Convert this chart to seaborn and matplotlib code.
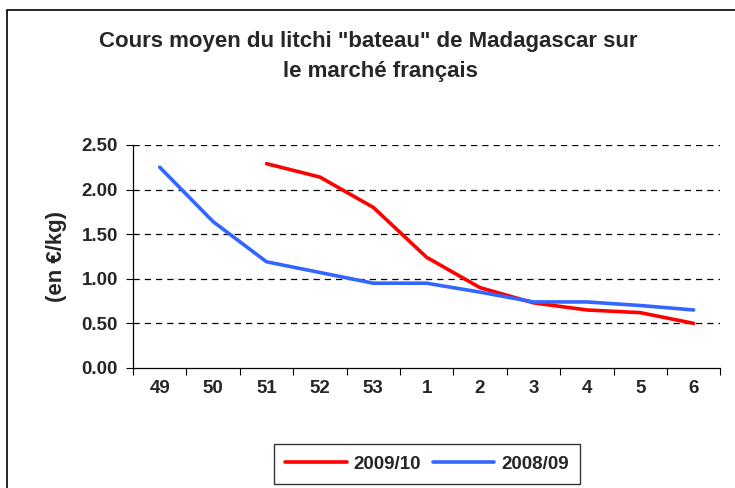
import pandas as pd
import numpy as np
import seaborn as sns
import matplotlib.pyplot as plt
from matplotlib.patches import Rectangle

semaines = ['49', '50', '51', '52', '53', '1', '2', '3', '4', '5', '6']
prix_0910 = [np.nan, np.nan, 2.29, 2.14, 1.80, 1.24, 0.90, 0.73, 0.65, 0.62, 0.50]
prix_0809 = [2.25, 1.64, 1.19, 1.07, 0.95, 0.95, 0.85, 0.74, 0.74, 0.70, 0.65]

pos = list(range(len(semaines)))
df = pd.DataFrame({
    'pos': pos + pos,
    'prix': prix_0910 + prix_0809,
    'saison': ['2009/10'] * len(pos) + ['2008/09'] * len(pos),
})

sns.set_style('white')
plt.rcParams['font.family'] = ['Liberation Sans', 'DejaVu Sans']
plt.rcParams['font.weight'] = 'bold'

fig = plt.figure(figsize=(7.35, 4.88), dpi=100)
ax = fig.add_axes([0.181, 0.246, 0.799, 0.457])

sns.lineplot(data=df, x='pos', y='prix', hue='saison',
             palette={'2009/10': '#ff0000', '2008/09': '#3366ff'},
             linewidth=2.6, ax=ax)

ax.set_xlim(-0.5, len(semaines) - 0.5)
ax.set_ylim(0, 2.5)
ax.set_yticks([0, 0.5, 1.0, 1.5, 2.0, 2.5])
ax.set_yticklabels(['%.2f' % v for v in [0, 0.5, 1.0, 1.5, 2.0, 2.5]],
                   fontsize=13.5, fontweight='bold')
ax.set_xticks(pos)
ax.set_xticklabels(semaines, fontsize=13.5, fontweight='bold')
ax.set_xticks(np.arange(-0.5, len(semaines)), minor=True)
ax.tick_params(axis='x', which='major', length=0, pad=9)
ax.tick_params(axis='x', which='minor', length=5, width=0.8, color='black', direction='out', bottom=True)
ax.tick_params(axis='y', length=5, width=0.8, color='black', direction='out', pad=6, left=True)

for v in [0.5, 1.0, 1.5, 2.0, 2.5]:
    ax.axhline(v, color='black', linestyle=(0, (5, 4)), linewidth=0.9, zorder=0)

for s in ['top', 'right']:
    ax.spines[s].set_visible(False)
for s in ['left', 'bottom']:
    ax.spines[s].set_color('black')
    ax.spines[s].set_linewidth(0.9)

ax.set_xlabel('')
ax.set_ylabel('(en €/kg)', fontsize=16, fontweight='bold', labelpad=10)

leg = ax.legend(loc='center', bbox_to_anchor=(427 / 735, 1 - 464 / 488),
                bbox_transform=fig.transFigure, ncol=2, fontsize=13.5,
                frameon=True, fancybox=False, edgecolor='black',
                handlelength=3.3, columnspacing=0.6, handletextpad=0.35,
                borderpad=0.6, borderaxespad=0)
leg.get_frame().set_linewidth(1.0)
for t in leg.get_texts():
    t.set_fontweight('bold')

fig.text(368 / 735, 1 - 41 / 488, 'Cours moyen du litchi "bateau" de Madagascar sur',
         ha='center', va='center', fontsize=16, fontweight='bold')
fig.text(380 / 735, 1 - 72 / 488, 'le marché français',
         ha='center', va='center', fontsize=16, fontweight='bold')

fig.patches.append(Rectangle((7 / 735, -0.1), 1.1, 1 - 10 / 488 + 0.1,
                             transform=fig.transFigure, fill=False,
                             edgecolor='black', linewidth=1.2))

fig.savefig('out.png', dpi=100)
